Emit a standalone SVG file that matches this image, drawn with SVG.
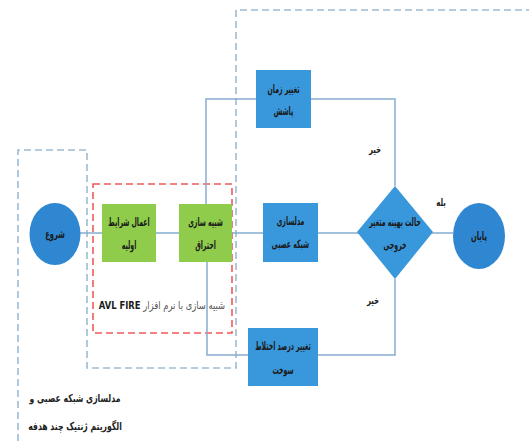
<svg xmlns="http://www.w3.org/2000/svg" width="529" height="441" viewBox="0 0 529 441">
<style>
.ln{fill:none;stroke:#86acd0;stroke-width:1.5}
.dashb{fill:none;stroke:#9dbbd3;stroke-width:1.6;stroke-dasharray:7,4}
.dashr{fill:none;stroke:#ef5a5a;stroke-width:1.6;stroke-dasharray:7,4}
.blue{fill:#3997dc}
.circ{fill:#2f87d2}
.green{fill:#8fcc4b}
.t{font-family:"DejaVu Sans Condensed","DejaVu Sans",sans-serif;font-size:11.5px;font-weight:bold;fill:#1a1a1a;text-anchor:middle;direction:rtl}
.lbl{font-family:"DejaVu Sans Condensed","DejaVu Sans",sans-serif;font-size:11px;font-weight:bold;fill:#222;text-anchor:middle;direction:rtl}
</style>
<rect width="529" height="441" fill="#fff"/>
<g id="regions">
<path class="dashb" d="M18,441 V150 H87 V368 H236 V10 H529"/>
<rect class="dashr" x="93" y="184" width="139" height="149"/>
</g>
<g id="connectors">
<line class="ln" x1="80" y1="233" x2="453" y2="233"/>
<polyline class="ln" points="206,204 206,99 395,99 395,186"/>
<polyline class="ln" points="207,262 207,355 395,355 395,279"/>
</g>
<g id="start">
<ellipse class="circ" cx="55" cy="234" rx="25.5" ry="31"/>
<text class="t" transform="translate(55,238) scale(0.65,1)">شروع</text>
</g>
<g id="init">
<rect class="green" x="102" y="204" width="54" height="58"/>
<text class="t" transform="translate(129,226) scale(0.6,1)">اعمال شرایط</text>
<text class="t" transform="translate(129,249) scale(0.6,1)">اولیه</text>
</g>
<g id="combustion">
<rect class="green" x="179" y="204" width="53" height="58"/>
<text class="t" transform="translate(205.5,226) scale(0.6,1)">شبیه سازی</text>
<text class="t" transform="translate(205.5,249) scale(0.6,1)">احتراق</text>
</g>
<g id="injection">
<rect class="blue" x="256" y="70" width="55" height="58"/>
<text class="t" transform="translate(283.5,93) scale(0.6,1)">تغییر زمان</text>
<text class="t" transform="translate(283.5,115) scale(0.6,1)">پاشش</text>
</g>
<g id="nn">
<rect class="blue" x="263" y="203" width="55" height="59"/>
<text class="t" transform="translate(290.5,225) scale(0.6,1)">مدلسازی</text>
<text class="t" transform="translate(290.5,248) scale(0.6,1)">شبکه عصبی</text>
</g>
<g id="fuel">
<rect class="blue" x="248" y="328" width="70" height="58"/>
<text class="t" transform="translate(283,350) scale(0.6,1)">تغییر درصد اختلاط</text>
<text class="t" transform="translate(283,374) scale(0.6,1)">سوخت</text>
</g>
<g id="decision">
<polygon class="blue" points="395,186 433,232 395,279 357,232"/>
<text class="t" transform="translate(395,226) scale(0.6,1)">حالت بهینه متغیر</text>
<text class="t" transform="translate(395,249) scale(0.6,1)">خروجی</text>
</g>
<g id="end">
<ellipse class="circ" cx="479" cy="236" rx="26" ry="33"/>
<text class="t" transform="translate(479,240) scale(0.65,1)">پایان</text>
</g>
<g id="labels">
<text class="lbl" transform="translate(375,153) scale(0.7,1)">خیر</text>
<text class="lbl" transform="translate(373,304) scale(0.7,1)">خیر</text>
<text class="lbl" transform="translate(441,206) scale(0.7,1)">بله</text>
<text transform="translate(162,309) scale(0.85,1)" style="font-family:'DejaVu Sans Condensed','DejaVu Sans',sans-serif;font-size:11px;text-anchor:middle;direction:rtl" fill="#555">شبیه سازی با نرم افزار <tspan font-weight="bold" fill="#1a1a1a">AVL FIRE</tspan></text>
<text class="lbl" transform="translate(75,402) scale(0.78,1)">مدلسازی شبکه عصبی و</text>
<text class="lbl" transform="translate(75,430) scale(0.78,1)">الگوریتم ژنتیک چند هدفه</text>
</g>
</svg>
